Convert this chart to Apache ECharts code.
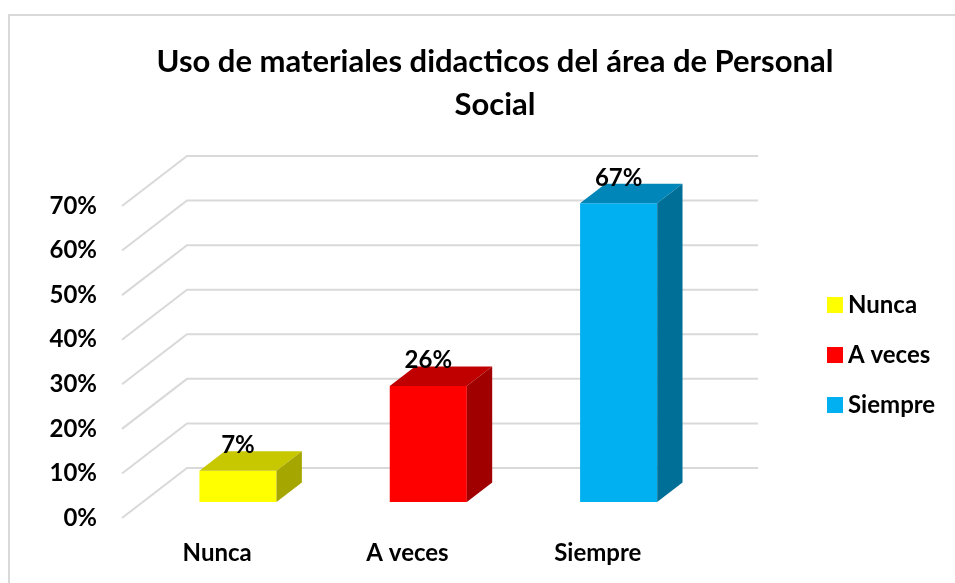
<!DOCTYPE html>
<html>
<head>
<meta charset="utf-8">
<script src="https://cdn.jsdelivr.net/npm/echarts@6/dist/echarts.min.js"></script>
<style>
  html, body { margin: 0; padding: 0; background: #fff; }
  #chart { width: 955px; height: 583px; }
</style>
</head>
<body>
<div id="chart"></div>
<script>
var categories = ['Nunca', 'A veces', 'Siempre'];
var percents = [7, 26, 67];
var yTicks = [0, 10, 20, 30, 40, 50, 60, 70];

var frontColors = ['#ffff00', '#ff0000', '#00b0f0'];
var topColors = ['#c8c800', '#c00000', '#0086b8'];
var sideColors = ['#a6a600', '#a00000', '#006f98'];

// oblique depth of the floor/back wall, in px
var DX = 65, DY = 50;
// bars sit between these depth fractions
var D0 = 0.32, D1 = 0.71;
var BAR_FRAC = 0.405;
var FONT = 'Lato, "Open Sans", sans-serif';

function renderGrid(params, api) {
    var cs = params.coordSys;
    var y = api.coord([0, api.value(1)])[1];
    return {
        type: 'polyline',
        shape: { points: [[cs.x, y], [cs.x + DX, y - DY], [cs.x + cs.width + DX, y - DY]] },
        style: { stroke: '#d9d9d9', lineWidth: 2, fill: null }
    };
}

function makeRenderBar(i) {
    return function (params, api) {
        var idx = api.value(0), v = api.value(1);
        var top = api.coord([idx, v]);
        var base = api.coord([idx, 0]);
        var w = api.size([1, 0])[0] * BAR_FRAC;
        var x0 = top[0] - w / 2 + DX * D0;
        var x1 = x0 + w;
        var yt = top[1] - DY * D0;
        var yb = base[1] - DY * D0;
        var ddx = DX * (D1 - D0), ddy = DY * (D1 - D0);
        return {
            type: 'group',
            children: [
                { type: 'polygon', shape: { points: [[x0, yt], [x1, yt], [x1, yb], [x0, yb]] },
                  style: { fill: frontColors[i] } },
                { type: 'polygon', shape: { points: [[x0, yt], [x1, yt], [x1 + ddx, yt - ddy], [x0 + ddx, yt - ddy]] },
                  style: { fill: topColors[i] } },
                { type: 'polygon', shape: { points: [[x1, yt], [x1 + ddx, yt - ddy], [x1 + ddx, yb - ddy], [x1, yb]] },
                  style: { fill: sideColors[i] } },
                { type: 'text', style: { text: v + '%', x: (x0 + x1) / 2, y: yt - ddy + 6,
                  textAlign: 'center', textVerticalAlign: 'bottom',
                  font: 'bold 24px ' + FONT, fill: '#000' } }
            ]
        };
    };
}

var series = [{
    type: 'custom',
    name: 'grid',
    z: 1,
    silent: true,
    renderItem: renderGrid,
    data: yTicks.map(function (t) { return [0, t]; })
}];
for (var i = 0; i < categories.length; i++) {
    series.push({
        type: 'custom',
        name: categories[i],
        z: 2,
        itemStyle: { color: frontColors[i] },
        renderItem: makeRenderBar(i),
        data: [[i, percents[i]]]
    });
}

var myChart = echarts.init(document.getElementById('chart'));
var option = {
    animation: false,
    backgroundColor: '#fff',
    title: {
        text: 'Uso de materiales didacticos del área de Personal\nSocial',
        left: 490,
        top: 35,
        textAlign: 'center',
        textStyle: { fontFamily: FONT, fontWeight: 'bold', fontSize: 31, lineHeight: 43, color: '#000' }
    },
    graphic: [{
        type: 'rect',
        shape: { x: 9, y: 15, width: 960, height: 580 },
        style: { fill: null, stroke: '#d9d9d9', lineWidth: 2 },
        z: -1
    }],
    legend: {
        orient: 'vertical',
        left: 822,
        top: 288,
        itemWidth: 16,
        itemHeight: 16,
        itemGap: 26,
        icon: 'rect',
        data: categories,
        textStyle: { fontFamily: FONT, fontWeight: 'bold', fontSize: 24, lineHeight: 24, color: '#000' }
    },
    grid: { left: 122, right: 262, top: 206, bottom: 65 },
    xAxis: {
        type: 'category',
        data: categories,
        axisLine: { show: false },
        axisTick: { show: false },
        axisLabel: { margin: 23, fontFamily: FONT, fontWeight: 'bold', fontSize: 24, color: '#000' }
    },
    yAxis: {
        type: 'value',
        min: 0,
        max: 70,
        interval: 10,
        splitLine: { show: false },
        axisLine: { show: false },
        axisTick: { show: false },
        axisLabel: { margin: 25, fontFamily: FONT, fontWeight: 'bold', fontSize: 24, color: '#000',
                     formatter: '{value}%' }
    },
    series: series
};
myChart.setOption(option);
</script>
</body>
</html>
